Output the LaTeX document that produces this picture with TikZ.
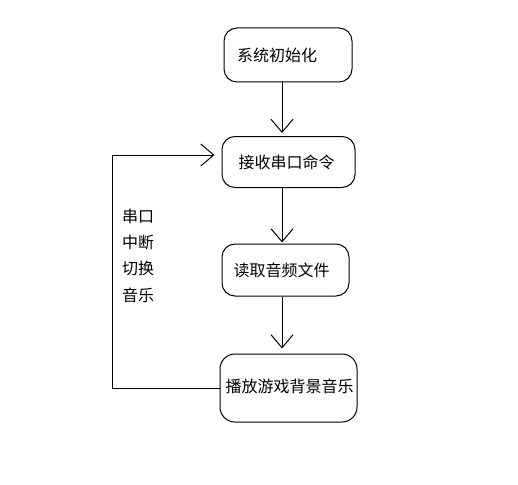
\documentclass[tikz,border=0pt]{standalone}
\usepackage{fontspec}
\newfontfamily\cjk{Noto Sans CJK SC}
\usetikzlibrary{arrows.meta}
\begin{document}
\begin{tikzpicture}[x=1pt,y=-1pt,
  box/.style={draw=black,line width=1pt,rounded corners=13pt,inner sep=0pt,font=\cjk\fontsize{16}{19}\selectfont},
  conn/.style={line width=1pt,-{Straight Barb[length=13pt,width=22pt,line width=1pt]}},
  lbl/.style={font=\cjk\fontsize{16}{19}\selectfont,inner sep=0pt,anchor=west}]
\fill[white] (0,0) rectangle (518,484);
\useasboundingbox (0,0) rectangle (518,484);
\node[box,minimum width=128pt,minimum height=54pt] (b1) at (288,55) {\hspace{-22pt}系统初始化};
\node[box,minimum width=133pt,minimum height=51pt] (b2) at (288.5,162) {\raisebox{-1pt}{\hspace{-4pt}接收串口命令}};
\node[box,minimum width=127pt,minimum height=52pt] (b3) at (285.5,270) {\raisebox{-2pt}{\hspace{-8pt}读取音频文件}};
\node[box,minimum width=137pt,minimum height=68pt,rounded corners=15pt] (b4) at (288.5,388) {\raisebox{5pt}{\hspace{2pt}播放游戏背景音乐}};
\coordinate (ax) at (282,0);
\draw[conn] (b1.south -| ax) -- ([yshift=3pt]b2.north -| ax);
\draw[conn] (b2.south -| ax) -- ([yshift=1pt]b3.north -| ax);
\draw[conn] (b3.south -| ax) -- ([yshift=5pt]b4.north -| ax);
\coordinate (lc) at (112,388);
\draw[conn] (b4.west) -- (lc) |- ([xshift=-7pt,yshift=7pt]b2.west);
\node[lbl] (t1) at (122,216) {串口};
\node[lbl] (t2) at (122,242) {中断};
\node[lbl] (t3) at (122,268) {切换};
\node[lbl] (t4) at (122,295) {音乐};
\end{tikzpicture}
\end{document}
